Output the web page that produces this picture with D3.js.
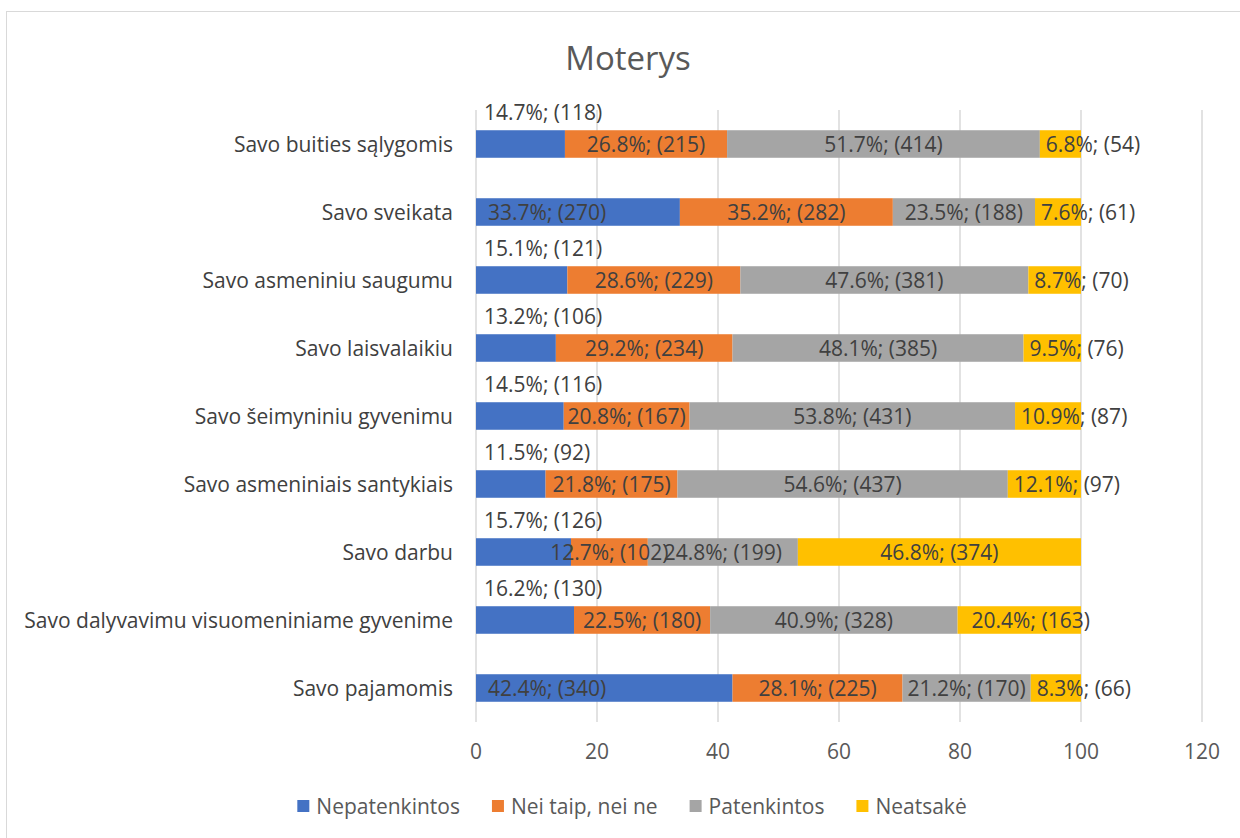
<!DOCTYPE html>
<html>
<head>
<meta charset="utf-8">
<script src="https://cdn.jsdelivr.net/npm/d3@7"></script>
<style>
  body { margin: 0; background: #fff; }
  svg { display: block; font-family: "Open Sans", sans-serif; }
</style>
</head>
<body>
<div id="container"></div>
<script>
// chart data
var categories = [
  "Savo buities sąlygomis",
  "Savo sveikata",
  "Savo asmeniniu saugumu",
  "Savo laisvalaikiu",
  "Savo šeimyniniu gyvenimu",
  "Savo asmeniniais santykiais",
  "Savo darbu",
  "Savo dalyvavimu visuomeniniame gyvenime",
  "Savo pajamomis"
];
var seriesNames = ["Nepatenkintos", "Nei taip, nei ne", "Patenkintos", "Neatsakė"];
var nepatenkintos = [14.7, 33.7, 15.1, 13.2, 14.5, 11.5, 15.7, 16.2, 42.4];
var neiTaip       = [26.8, 35.2, 28.6, 29.2, 20.8, 21.8, 12.7, 22.5, 28.1];
var patenkintos   = [51.7, 23.5, 47.6, 48.1, 53.8, 54.6, 24.8, 40.9, 21.2];
var neatsake      = [6.8, 7.6, 8.7, 9.5, 10.9, 12.1, 46.8, 20.4, 8.3];
// respondent counts shown in brackets
var nepatenkintosN = [118, 270, 121, 106, 116, 92, 126, 130, 340];
var neiTaipN       = [215, 282, 229, 234, 167, 175, 102, 180, 225];
var patenkintosN   = [414, 188, 381, 385, 431, 437, 199, 328, 170];
var neatsakeN      = [54, 61, 70, 76, 87, 97, 374, 163, 66];
var xTicks = [0, 20, 40, 60, 80, 100, 120];
var colors = ["#4472C4", "#ED7D31", "#A5A5A5", "#FFC000"];

var w = 1240, h = 838;
var svg = d3.select("div#container")
  .append("svg")
  .attr("width", w)
  .attr("height", h);

// outer chart frame
svg.append("rect")
  .attr("x", 6.5).attr("y", 11.5)
  .attr("width", w).attr("height", h)
  .attr("fill", "#fff")
  .attr("stroke", "#d9d9d9");

var keys = ["s0", "s1", "s2", "s3"];
var values = [nepatenkintos, neiTaip, patenkintos, neatsake];
var counts = [nepatenkintosN, neiTaipN, patenkintosN, neatsakeN];
var rows = categories.map(function(c, i) {
  var r = { cat: c, idx: i };
  keys.forEach(function(k, j) { r[k] = values[j][i]; });
  return r;
});

var x = d3.scaleLinear().domain([0, 120]).range([476, 1202]);
var y = d3.scaleBand().domain(categories).range([110, 722]).paddingInner(0.595).paddingOuter(0.2975);

// title
svg.append("text")
  .attr("x", 628).attr("y", 57)
  .attr("text-anchor", "middle")
  .attr("dominant-baseline", "central")
  .attr("font-size", 33)
  .attr("fill", "#595959")
  .text("Moterys");

// gridlines
svg.append("g").selectAll("line")
  .data(xTicks)
  .join("line")
  .attr("x1", function(d) { return x(d); })
  .attr("x2", function(d) { return x(d); })
  .attr("y1", 110).attr("y2", 722)
  .attr("stroke", "#d9d9d9")
  .attr("stroke-width", 1.5);

// x tick labels
svg.append("g").selectAll("text")
  .data(xTicks)
  .join("text")
  .attr("x", function(d) { return x(d); })
  .attr("y", 751)
  .attr("text-anchor", "middle")
  .attr("dominant-baseline", "central")
  .attr("font-size", 21)
  .attr("fill", "#595959")
  .text(function(d) { return d; });

// category labels
svg.append("g").selectAll("text")
  .data(categories)
  .join("text")
  .attr("x", 453)
  .attr("y", function(d) { return y(d) + y.bandwidth() / 2; })
  .attr("text-anchor", "end")
  .attr("dominant-baseline", "central")
  .attr("font-size", 21)
  .attr("fill", "#404040")
  .text(function(d) { return d; });

var stacked = d3.stack().keys(keys)(rows);

var layer = svg.append("g").selectAll("g")
  .data(stacked)
  .join("g")
  .attr("fill", function(d, i) { return colors[i]; });

layer.selectAll("rect")
  .data(function(d) { return d; })
  .join("rect")
  .attr("x", function(d) { return x(d[0]); })
  .attr("y", function(d) { return y(d.data.cat); })
  .attr("width", function(d) { return x(d[1]) - x(d[0]); })
  .attr("height", y.bandwidth());

// data labels
var labels = svg.append("g");
stacked.forEach(function(s, si) {
  s.forEach(function(d) {
    var i = d.data.idx;
    var txt = values[si][i].toFixed(1) + "%; (" + counts[si][i] + ")";
    var t = labels.append("text")
      .attr("font-size", 21)
      .attr("fill", "#404040")
      .attr("dominant-baseline", "central")
      .text(txt);
    var tw = t.node().getComputedTextLength();
    var x0 = x(d[0]), x1 = x(d[1]);
    var cy = y(d.data.cat) + y.bandwidth() / 2;
    if (si === 0) {
      if (x1 - x0 > tw + 24) {
        t.attr("x", x0 + 12).attr("y", cy);
      } else {
        // too narrow: put label above the bar
        t.attr("x", x0 + 8).attr("y", y(d.data.cat) - 18);
      }
    } else if (si === 3 && x1 - x0 < tw + 12) {
      t.attr("x", x0 + (x1 - x0 > tw ? 14 : 6)).attr("y", cy);
    } else {
      t.attr("x", (x0 + x1) / 2).attr("y", cy).attr("text-anchor", "middle");
    }
  });
});

// legend
var legend = svg.append("g");
var lx = 0;
seriesNames.forEach(function(n, i) {
  var g = legend.append("g");
  g.append("rect")
    .attr("width", 12).attr("height", 12)
    .attr("y", -6)
    .attr("fill", colors[i]);
  var t = g.append("text")
    .attr("x", 19)
    .attr("dominant-baseline", "central")
    .attr("font-size", 21)
    .attr("fill", "#595959")
    .text(n);
  var tw = t.node().getComputedTextLength();
  g.attr("transform", "translate(" + lx + ",0)");
  lx += 19 + tw + 32;
});
lx -= 32;
legend.attr("transform", "translate(" + (632 - lx / 2) + ",806)");
</script>
</body>
</html>
